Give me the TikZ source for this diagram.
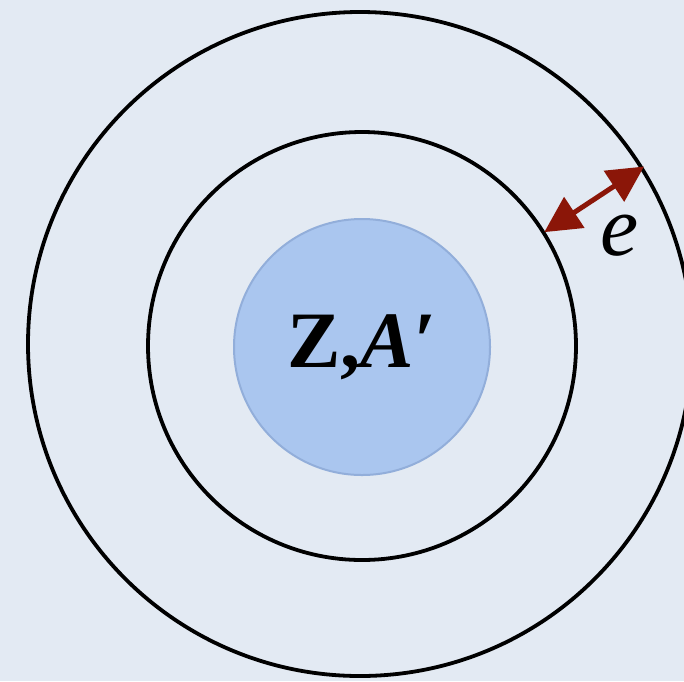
\documentclass[tikz,border=0pt]{standalone}
\usepackage{fontspec}
\setmainfont{Liberation Serif}
\usetikzlibrary{arrows.meta}
\definecolor{paperblue}{HTML}{E3EAF3}
\definecolor{nucleusblue}{HTML}{AAC6EF}
\definecolor{nucleusedge}{HTML}{92AEDA}
\definecolor{shellred}{HTML}{8B1608}
\tikzset{
  shell/.style={
    circle,
    draw=black,
    line width=3.8pt,
    inner sep=0pt
  },
  nucleus/.style={
    circle,
    draw=nucleusedge,
    line width=2pt,
    fill=nucleusblue,
    inner sep=0pt,
    minimum size=256pt,
    font=\rmfamily\fontsize{80}{80}\selectfont\bfseries
  },
  width/.style={{Triangle[length=36pt,width=36pt]}-{Triangle[length=36pt,width=36pt]}, line width=5pt, draw=shellred, shorten <=-1pt, shorten >=-1pt},
  widthlabel/.style={font=\rmfamily\fontsize{86}{86}\selectfont\itshape}
}

\begin{document}
\begin{tikzpicture}[x=1pt, y=-1pt]

% Background
\fill[paperblue] (0,0) rectangle (684,681);
\useasboundingbox (0,0) rectangle (684,681);

% Shells and nucleus
\node[shell, minimum size=664pt] (outer) at (360,344) {};
\node[shell, minimum size=428pt] (inner) at (362,346) {};
\node[nucleus] (core) at (362,347) {Z,\textit{A}′};

% Shell width
\draw[width] (inner.32) -- (outer.32);
\node[widthlabel] (e) at (620,236) {e};

\end{tikzpicture}
\end{document}
